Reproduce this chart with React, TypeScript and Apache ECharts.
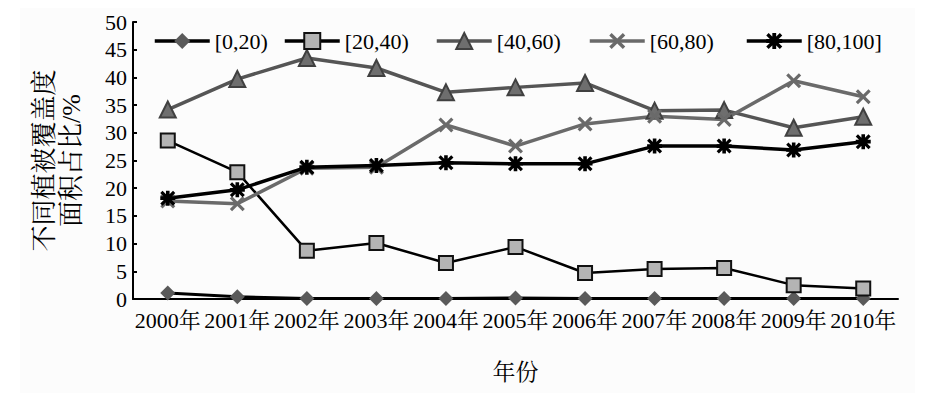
import React, { useEffect, useRef } from "react";
import * as echarts from "echarts";

const years = ["2000年", "2001年", "2002年", "2003年", "2004年", "2005年", "2006年", "2007年", "2008年", "2009年", "2010年"];
const seriesNames = ["[0,20)", "[20,40)", "[40,60)", "[60,80)", "[80,100]"];
const s0_20 = [1.1, 0.4, 0.1, 0.1, 0.1, 0.2, 0.1, 0.1, 0.1, 0.1, 0.1];
const s20_40 = [28.6, 22.9, 8.7, 10.1, 6.5, 9.4, 4.7, 5.4, 5.6, 2.5, 1.9];
const s40_60 = [34.2, 39.7, 43.5, 41.7, 37.3, 38.2, 39.0, 34.0, 34.1, 30.9, 32.9];
const s60_80 = [17.7, 17.2, 23.6, 23.8, 31.4, 27.6, 31.6, 33.0, 32.4, 39.4, 36.5];
const s80_100 = [18.2, 19.7, 23.8, 24.1, 24.6, 24.4, 24.4, 27.6, 27.6, 26.9, 28.4];
const yTicks = { min: 0, max: 50, interval: 5 };

const FONT = "'Liberation Serif', 'Noto Serif CJK SC', 'Noto Sans CJK SC', serif";
const CROSS = "path://M1.5,0 L5,3.5 L8.5,0 L10,1.5 L6.5,5 L10,8.5 L8.5,10 L5,6.5 L1.5,10 L0,8.5 L3.5,5 L0,1.5 Z";
const STAR =
  "path://M1.5,0 L5,3.5 L8.5,0 L10,1.5 L6.5,5 L10,8.5 L8.5,10 L5,6.5 L1.5,10 L0,8.5 L3.5,5 L0,1.5 Z M3.8,0 L6.2,0 L6.2,3.8 L10,3.8 L10,6.2 L6.2,6.2 L6.2,10 L3.8,10 L3.8,6.2 L0,6.2 L0,3.8 L3.8,3.8 Z";

export default function App() {
  const ref = useRef<HTMLDivElement>(null);
  useEffect(() => {
    document.body.style.margin = "0";
    const chart = echarts.init(ref.current!, null, { renderer: "svg" });
    const legendLefts = [148, 278, 430, 583, 740];
    const legendLineColors = ["#000", "#000", "#555", "#6a6a6a", "#000"];
    chart.setOption({
      animation: false,
      backgroundColor: "#ffffff",
      graphic: [
        { type: "rect", z: -10, shape: { x: 20, y: 8, width: 895, height: 385 }, style: { fill: "#fcfcfc" } },
      ],
      legend: seriesNames.map((n, i) => ({
        data: [n],
        left: legendLefts[i],
        top: 25,
        itemWidth: 55,
        itemHeight: 20,
        itemGap: 0,
        lineStyle: { width: 3.5, color: legendLineColors[i] },
        textStyle: { fontFamily: FONT, fontSize: 22, color: "#000" },
      })),
      grid: { left: 133, right: 29, top: 22, bottom: 105 },
      xAxis: {
        type: "category",
        data: years,
        boundaryGap: true,
        name: "年份",
        nameLocation: "middle",
        nameGap: 62,
        nameTextStyle: { fontFamily: FONT, fontSize: 23, color: "#000" },
        axisLine: { lineStyle: { color: "#000", width: 2 } },
        axisTick: { inside: true, length: 4, lineStyle: { color: "#000", width: 2 } },
        axisLabel: { interval: 0, margin: 10, fontFamily: FONT, fontSize: 22, color: "#000" },
        splitLine: { show: false },
      },
      yAxis: {
        type: "value",
        min: yTicks.min,
        max: yTicks.max,
        interval: yTicks.interval,
        name: "不同植被覆盖度\n面积占比/%",
        nameLocation: "middle",
        nameRotate: 90,
        nameGap: 48,
        nameTextStyle: { fontFamily: FONT, fontSize: 26, color: "#000", lineHeight: 27 },
        axisLine: { show: true, lineStyle: { color: "#000", width: 2 } },
        axisTick: { show: true, inside: true, length: 4, lineStyle: { color: "#000", width: 2 } },
        axisLabel: { margin: 6, fontFamily: FONT, fontSize: 22, color: "#000" },
        splitLine: { show: false },
      },
      series: [
        {
          name: seriesNames[0],
          type: "line",
          data: s0_20,
          symbol: "diamond",
          symbolSize: 15,
          lineStyle: { color: "#000", width: 3 },
          itemStyle: { color: "#5a5a5a", borderWidth: 0 },
        },
        {
          name: seriesNames[1],
          type: "line",
          data: s20_40,
          symbol: "rect",
          symbolSize: 14,
          lineStyle: { color: "#000", width: 2.5 },
          itemStyle: { color: "#b4b4b4", borderColor: "#111", borderWidth: 2 },
        },
        {
          name: seriesNames[2],
          type: "line",
          data: s40_60,
          symbol: "triangle",
          symbolSize: 16,
          lineStyle: { color: "#555", width: 3.5 },
          itemStyle: { color: "#6e6e6e", borderColor: "#404040", borderWidth: 2 },
        },
        {
          name: seriesNames[3],
          type: "line",
          data: s60_80,
          symbol: CROSS,
          symbolSize: 15,
          lineStyle: { color: "#6a6a6a", width: 3.5 },
          itemStyle: { color: "#6a6a6a", borderWidth: 0 },
        },
        {
          name: seriesNames[4],
          type: "line",
          data: s80_100,
          symbol: STAR,
          symbolSize: 15,
          lineStyle: { color: "#000", width: 3.5 },
          itemStyle: { color: "#000", borderWidth: 0 },
        },
      ],
    });
    return () => chart.dispose();
  }, []);
  return <div ref={ref} style={{ width: 927, height: 404 }} />;
}
